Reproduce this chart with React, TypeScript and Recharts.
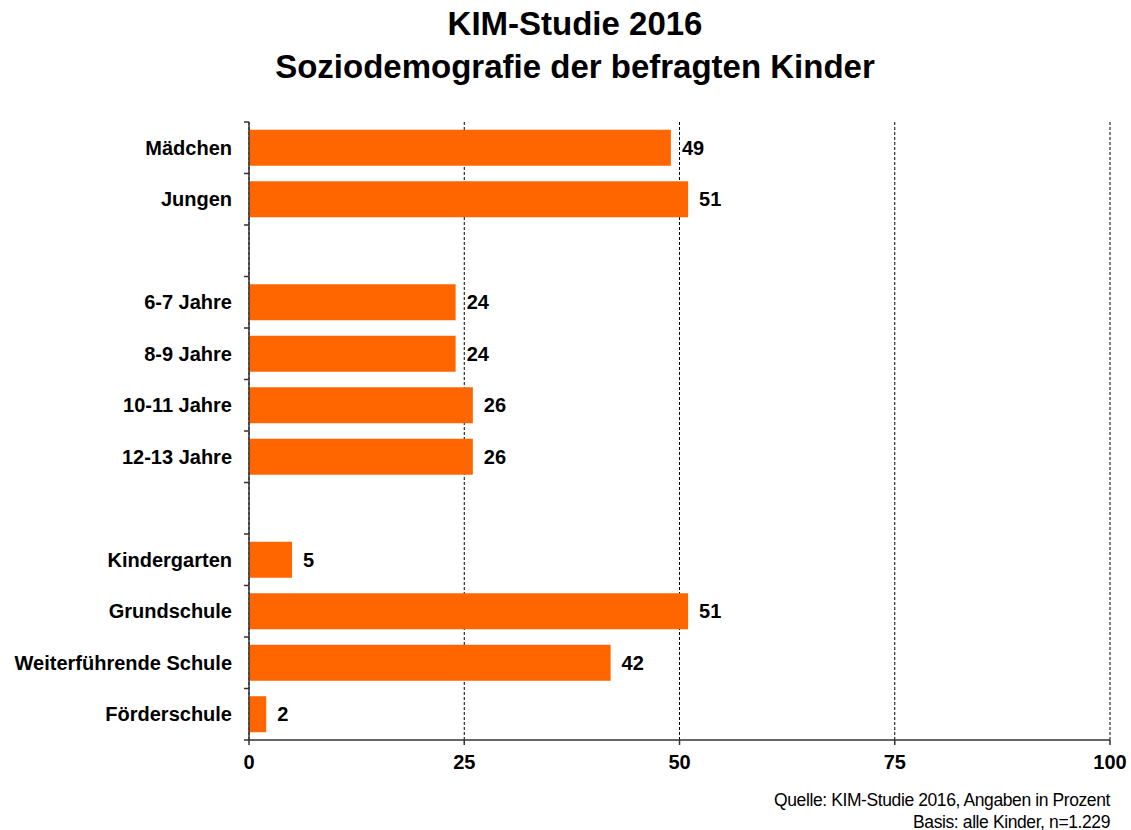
import React from "react";
import {
  BarChart,
  Bar,
  XAxis,
  YAxis,
  CartesianGrid,
  LabelList,
} from "recharts";

// Kategorien (leere Einträge = Abstand zwischen Gruppen)
const categories = [
  "Mädchen",
  "Jungen",
  " ",
  "6-7 Jahre",
  "8-9 Jahre",
  "10-11 Jahre",
  "12-13 Jahre",
  "  ",
  "Kindergarten",
  "Grundschule",
  "Weiterführende Schule",
  "Förderschule",
];
const values: (number | null)[] = [49, 51, null, 24, 24, 26, 26, null, 5, 51, 42, 2];
const xTicks = [0, 25, 50, 75, 100];

const data = categories.map((name, i) => ({ name, value: values[i] }));

const FONT = "'Liberation Sans', Arial, sans-serif";
const ORANGE = "#ff6600";
const TICK_SIZE = 5;
const TICK_MARGIN = 12;

// Kategorie-Tick: Label in der Mitte, Strich an der Bandgrenze
const CatTick = (props: any) => {
  const { x, y, payload, index, visibleTicksCount } = props;
  const half = payload?.offset ?? 25.75;
  const lx1 = x + TICK_MARGIN;
  const lx2 = lx1 + TICK_SIZE;
  return (
    <g>
      <line x1={lx1} x2={lx2} y1={y - half} y2={y - half} stroke="#333" strokeWidth={1.5} />
      {index === visibleTicksCount - 1 && (
        <line x1={lx1} x2={lx2} y1={y + half} y2={y + half} stroke="#333" strokeWidth={1.5} />
      )}
      <text
        x={x}
        y={y}
        dy={7}
        textAnchor="end"
        fontFamily={FONT}
        fontWeight="bold"
        fontSize={20}
        fill="#000"
      >
        {payload.value}
      </text>
    </g>
  );
};

export default function App() {
  return (
    <div
      style={{
        position: "absolute",
        left: 0,
        top: 0,
        width: 1131,
        height: 830,
        background: "#fff",
        fontFamily: FONT,
      }}
    >
      <div
        style={{
          position: "absolute",
          left: 0,
          top: 2,
          width: 1150,
          textAlign: "center",
          fontWeight: "bold",
          fontSize: 33,
          lineHeight: "43px",
          color: "#000",
        }}
      >
        KIM-Studie 2016
        <br />
        Soziodemografie der befragten Kinder
      </div>

      <BarChart
        width={1131}
        height={830}
        data={data}
        layout="vertical"
        margin={{ top: 122, right: 21, bottom: 60, left: 0 }}
        barCategoryGap="15%"
      >
        <CartesianGrid
          horizontal={false}
          vertical
          stroke="#000"
          strokeDasharray="3 2"
        />
        <XAxis
          type="number"
          domain={[0, 100]}
          ticks={xTicks}
          allowDataOverflow
          axisLine={{ stroke: "#333", strokeWidth: 1.5 }}
          tickLine={{ stroke: "#333", strokeWidth: 1.5 }}
          tickSize={TICK_SIZE}
          tickMargin={10}
          height={30}
          tick={{ fontFamily: FONT, fontWeight: "bold", fontSize: 20, fill: "#000" }}
        />
        <YAxis
          type="category"
          dataKey="name"
          width={249}
          interval={0}
          axisLine={{ stroke: "#333", strokeWidth: 1.5 }}
          tickLine={false}
          tickSize={TICK_SIZE}
          tickMargin={TICK_MARGIN}
          tick={<CatTick />}
        />
        <Bar dataKey="value" fill={ORANGE} isAnimationActive={false}>
          <LabelList
            dataKey="value"
            position="right"
            offset={11}
            formatter={(v: any) => (v == null ? "" : v)}
            style={{ fontFamily: FONT, fontWeight: "bold", fontSize: 20, fill: "#000" }}
          />
        </Bar>
      </BarChart>

      <div
        style={{
          position: "absolute",
          right: 21,
          top: 789,
          textAlign: "right",
          fontSize: 17.5,
          lineHeight: "22px",
          letterSpacing: "-0.4px",
          color: "#000",
        }}
      >
        Quelle: KIM-Studie 2016, Angaben in Prozent
        <br />
        Basis: alle Kinder, n=1.229
      </div>
    </div>
  );
}
